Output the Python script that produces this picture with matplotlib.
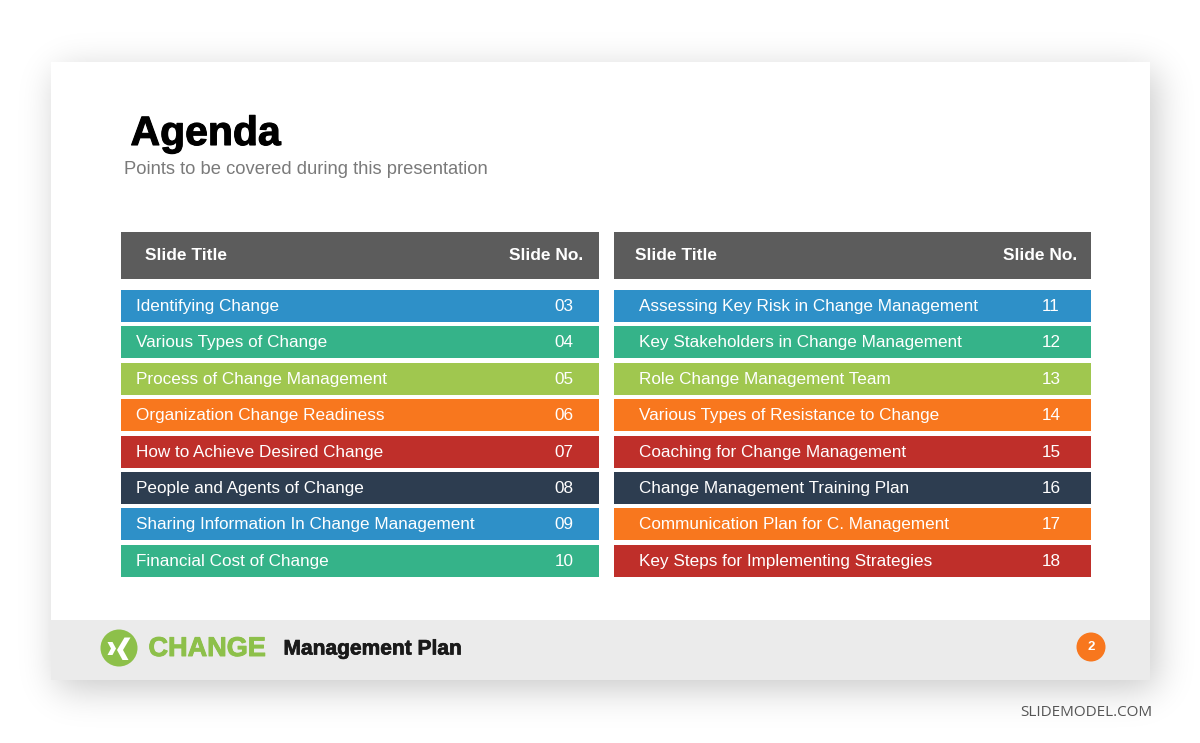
import matplotlib
matplotlib.use("Agg")
import matplotlib.pyplot as plt
import matplotlib.patheffects as pe
import numpy as np
import math
from matplotlib.patches import Rectangle, Circle, Polygon

plt.rcParams['font.family'] = ['Liberation Sans', 'DejaVu Sans']

# ---- data ----
left_titles = ["Identifying Change", "Various Types of Change", "Process of Change Management",
               "Organization Change Readiness", "How to Achieve Desired Change",
               "People and Agents of Change", "Sharing Information In Change Management",
               "Financial Cost of Change"]
left_numbers = ["03", "04", "05", "06", "07", "08", "09", "10"]
right_titles = ["Assessing Key Risk in Change Management", "Key Stakeholders in Change Management",
                "Role Change Management Team", "Various Types of Resistance to Change",
                "Coaching for Change Management", "Change Management Training Plan",
                "Communication Plan for C. Management", "Key Steps for Implementing Strategies"]
right_numbers = ["11", "12", "13", "14", "15", "16", "17", "18"]
left_colors = ["#2E90C8", "#35B389", "#A0C74F", "#F8771E", "#BF2F2A", "#2D3D50", "#2E90C8", "#35B389"]
right_colors = ["#2E90C8", "#35B389", "#A0C74F", "#F8771E", "#BF2F2A", "#2D3D50", "#F8771E", "#BF2F2A"]
header_labels = ["Slide Title", "Slide No."]
title = "Agenda"
subtitle = "Points to be covered during this presentation"
brand = "CHANGE"
brand_sub = "Management Plan"
page_no = "2"
credit = "SLIDEMODEL.COM"

W, H = 1200, 743
fig = plt.figure(figsize=(W / 100, H / 100), dpi=100)
ax = fig.add_axes([0, 0, 1, 1])
ax.axis('off')
fig.patch.set_facecolor('white')

# slide + soft (blurred) shadow
sx0, sy0, sx1, sy1 = 51, 62, 1150, 680
ox, oy, s = 6, 9, 26.0
erf = np.vectorize(math.erf)
xs = np.arange(W) + 0.5
ys = np.arange(H) + 0.5
fx = 0.5 * (erf((xs - (sx0 + ox)) / s) - erf((xs - (sx1 + ox)) / s))
fy = 0.5 * (erf((ys - (sy0 + oy)) / s) - erf((ys - (sy1 + oy)) / s))
rgba = np.zeros((H, W, 4))
rgba[..., 3] = 0.22 * fy[:, None] * fx[None, :]
ax.imshow(rgba, extent=(0, W, H, 0), zorder=1, interpolation='bilinear')
ax.set_xlim(0, W)
ax.set_ylim(H, 0)

ax.add_patch(Rectangle((sx0, sy0), sx1 - sx0, sy1 - sy0, fc='white', ec='none', zorder=2))
ax.add_patch(Rectangle((sx0, 620), sx1 - sx0, sy1 - 620, fc='#EBEBEB', ec='none', zorder=3))


def heavy(color, lw):
    return [pe.withStroke(linewidth=lw, foreground=color)]


# titles
ax.text(130.5, 134, title, fontsize=29.5, fontweight='bold', color='black', va='center', ha='left',
        zorder=5, path_effects=heavy('black', 0.8))
ax.text(124, 169, subtitle, fontsize=13.2, color='#7A7A7A', va='center', ha='left', zorder=5)

# tables
row_top0 = 290
row_step = 36.4
row_h = 32
tables = [
    dict(x0=121, x1=599, titles=left_titles, nums=left_numbers, colors=left_colors,
         tx=136, nx=564, hx=145, hnx=583),
    dict(x0=614, x1=1091, titles=right_titles, nums=right_numbers, colors=right_colors,
         tx=639, nx=1051, hx=635, hnx=1077),
]
for t in tables:
    width = t['x1'] - t['x0']
    ax.barh([255.5], [width], left=t['x0'], height=47, color='#5C5C5C', zorder=4)
    ax.text(t['hx'], 255, header_labels[0], fontsize=12.5, fontweight='bold', color='white',
            va='center', ha='left', zorder=5)
    ax.text(t['hnx'], 255, header_labels[1], fontsize=12.5, fontweight='bold', color='white',
            va='center', ha='right', zorder=5)
    centers = [row_top0 + i * row_step + row_h / 2 for i in range(len(t['titles']))]
    ax.barh(centers, [width] * len(centers), left=t['x0'], height=row_h, color=t['colors'], zorder=4)
    for c, txt, n in zip(centers, t['titles'], t['nums']):
        ax.text(t['tx'], c + 0.5, txt, fontsize=12.3, color='white', va='center', ha='left', zorder=5)
        ax.text(t['nx'], c + 0.5, n, fontsize=12.3, color='white', va='center', ha='center', zorder=5)

# footer logo
ax.add_patch(Circle((119, 648), 18.5, fc='#8DC04A', ec='none', zorder=5))
ax.add_patch(Polygon([(107.5, 642), (112.5, 642), (116, 648.5), (112.5, 655), (107.5, 655), (111, 648.5)],
                     closed=True, fc='white', ec='none', zorder=6))
ax.add_patch(Polygon([(124.5, 637.5), (130.5, 637.5), (123, 650), (128.5, 660), (122.5, 660), (117, 650)],
                     closed=True, fc='white', ec='none', zorder=6))
ax.text(148.5, 649, brand, fontsize=19.5, fontweight='bold', color='#8DC04A', va='center', ha='left',
        zorder=6, path_effects=heavy('#8DC04A', 0.7))
ax.text(283.5, 649, brand_sub, fontsize=15.1, fontweight='bold', color='#1A1A1A', va='center', ha='left',
        zorder=6, path_effects=heavy('#1A1A1A', 0.5))

# page number
ax.add_patch(Circle((1091, 647), 14.5, fc='#F8771E', ec='none', zorder=5))
ax.text(1091, 647.5, page_no, fontsize=9.5, fontweight='bold', color='white', va='center', ha='center', zorder=6)

# credit
ax.text(1152, 713, credit, fontsize=11, color='#555555', va='center', ha='right', zorder=6,
        family=['Open Sans', 'DejaVu Sans'])

fig.savefig('out.png', dpi=100, facecolor='white')
